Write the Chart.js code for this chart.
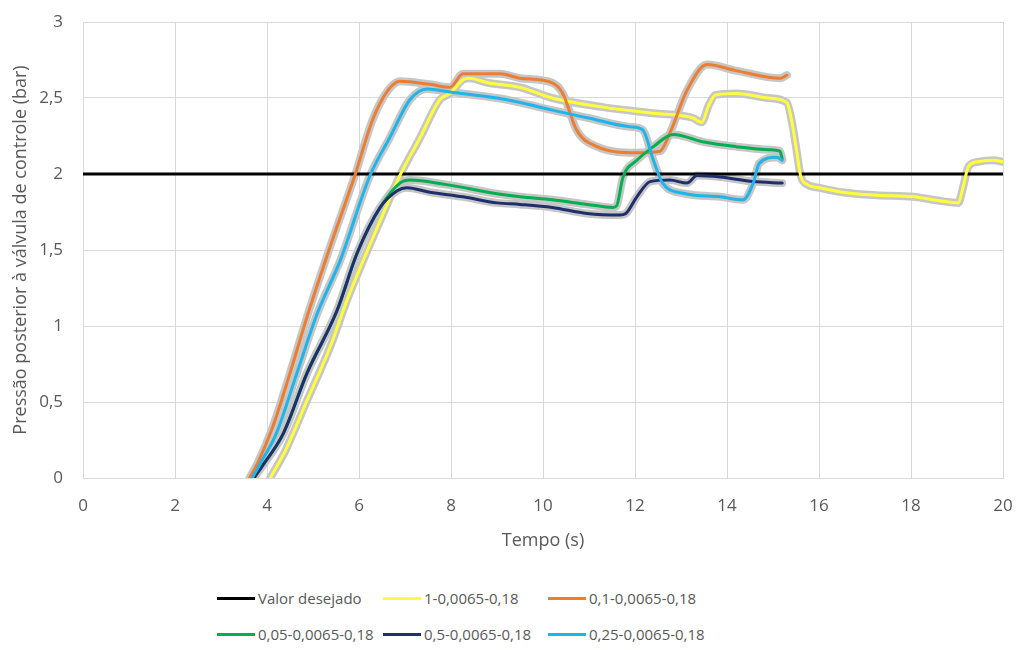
<!DOCTYPE html>
<html>
<head>
<meta charset="utf-8">
<script src="https://cdn.jsdelivr.net/npm/chart.js@4/dist/chart.umd.min.js"></script>
<style>
    body { margin: 0; background: #fff; font-family: "Open Sans", sans-serif; }
    #wrap { position: relative; width: 1017px; height: 650px; }
    #legend {
        position: absolute; left: 217px; top: 586px;
        display: grid; grid-template-columns: 166px 165px 180px; row-gap: 12px;
        color: #595959; font-size: 15px;
    }
    .item { display: flex; align-items: center; height: 24px; white-space: nowrap; }
    .swatch { width: 38px; height: 3px; margin-right: 3px; }
</style>
</head>
<body>
<div id="wrap">
    <canvas id="chart" width="1017" height="560"></canvas>
    <div id="legend"></div>
</div>
<script>
// 设定值
const setpointTime = [0, 20];
const setpointValues = [2, 2];

// 1-0,0065-0,18
const yellowTime = [4.07, 4.4, 4.87, 5.37, 5.74, 6.09, 6.5, 6.89, 7.33, 7.76, 7.98, 8.26, 8.4, 8.8, 9.5, 10.2, 11.3, 12.4, 13.25, 13.45, 13.6, 13.75, 14.2, 14.9, 15.3, 15.4, 15.5, 15.6, 15.75, 16.0, 16.5, 17.25, 18.05, 18.7, 19.03, 19.13, 19.25, 19.45, 19.8, 20];
const yellowValues = [0, 0.18, 0.51, 0.86, 1.17, 1.43, 1.72, 1.99, 2.24, 2.49, 2.53, 2.62, 2.63, 2.6, 2.57, 2.5, 2.44, 2.4, 2.37, 2.34, 2.45, 2.52, 2.53, 2.5, 2.47, 2.36, 2.18, 1.99, 1.93, 1.91, 1.88, 1.86, 1.85, 1.82, 1.81, 1.91, 2.05, 2.08, 2.09, 2.08];

// 0,1-0,0065-0,18
const orangeTime = [3.62, 3.8, 4.13, 4.5, 4.87, 5.37, 5.91, 6.3, 6.63, 6.89, 7.54, 7.98, 8.26, 9.07, 9.5, 10.2, 10.43, 10.73, 11.17, 12.04, 12.54, 12.76, 13.13, 13.57, 14.2, 15.15, 15.3];
const orangeValues = [0, 0.1, 0.34, 0.69, 1.06, 1.52, 1.99, 2.36, 2.55, 2.61, 2.59, 2.57, 2.66, 2.66, 2.63, 2.6, 2.53, 2.29, 2.18, 2.14, 2.15, 2.27, 2.55, 2.72, 2.68, 2.63, 2.65];

// 0,05-0,0065-0,18
const greenTime = [3.7, 3.9, 4.35, 4.87, 5.52, 5.96, 6.46, 6.89, 7.11, 7.9, 9.0, 9.5, 10.2, 10.96, 11.52, 11.6, 11.74, 12.04, 12.4, 12.83, 13.5, 14.2, 14.93, 15.15, 15.2];
const greenValues = [0, 0.08, 0.29, 0.69, 1.1, 1.48, 1.78, 1.94, 1.96, 1.93, 1.87, 1.85, 1.83, 1.8, 1.78, 1.79, 1.98, 2.09, 2.18, 2.26, 2.21, 2.18, 2.16, 2.15, 2.1];

// 0,5-0,0065-0,18
const navyTime = [3.72, 3.9, 4.35, 4.87, 5.52, 5.96, 6.46, 6.83, 7.04, 7.54, 8.26, 9.0, 9.5, 10.2, 10.96, 11.67, 11.8, 12.04, 12.33, 12.76, 13.13, 13.35, 13.85, 14.57, 15.2];
const navyValues = [0, 0.08, 0.29, 0.69, 1.1, 1.48, 1.78, 1.89, 1.91, 1.88, 1.85, 1.81, 1.8, 1.78, 1.74, 1.73, 1.74, 1.85, 1.95, 1.96, 1.94, 1.99, 1.98, 1.95, 1.94];

// 0,25-0,0065-0,18
const blueTime = [3.68, 3.9, 4.2, 4.65, 5.09, 5.59, 6.24, 6.67, 7.11, 7.48, 7.98, 9.0, 9.5, 10.2, 10.96, 11.9, 12.17, 12.4, 12.6, 13.1, 13.85, 14.35, 14.57, 14.7, 15.08, 15.2];
const blueValues = [0, 0.12, 0.29, 0.69, 1.08, 1.43, 1.99, 2.24, 2.49, 2.56, 2.54, 2.5, 2.47, 2.42, 2.37, 2.31, 2.29, 2.09, 1.94, 1.87, 1.85, 1.83, 1.94, 2.07, 2.11, 2.09];

const seriesNames = ['Valor desejado', '1-0,0065-0,18', '0,1-0,0065-0,18', '0,05-0,0065-0,18', '0,5-0,0065-0,18', '0,25-0,0065-0,18'];
const seriesColors = ['#000000', '#FFFF3C', '#ED7D31', '#00B050', '#1F2F6B', '#1EB4EC'];
const xTicks = [0, 2, 4, 6, 8, 10, 12, 14, 16, 18, 20];

const seriesData = [
    [setpointTime, setpointValues],
    [yellowTime, yellowValues],
    [orangeTime, orangeValues],
    [greenTime, greenValues],
    [navyTime, navyValues],
    [blueTime, blueValues]
];

function toPoints(times, values) {
    return times.map((t, i) => ({ x: t, y: values[i] }));
}

const datasets = [];
// 灰色原始信号带
seriesData.forEach((s, i) => {
    if (i === 0) return;
    datasets.push({
        label: 'raw',
        data: toPoints(s[0], s[1]),
        borderColor: '#C6C6C6',
        borderWidth: 8,
        order: 10,
        isRaw: true
    });
});
// 彩色曲线
seriesData.forEach((s, i) => {
    datasets.push({
        label: seriesNames[i],
        data: toPoints(s[0], s[1]),
        borderColor: seriesColors[i],
        borderWidth: 3,
        order: i === 0 ? 8 : 7 - i
    });
});

const tickFont = { family: '"Open Sans", sans-serif', size: 17 };
const titleFont = { family: '"Open Sans", sans-serif', size: 18 };
const decimalComma = v => String(v).replace('.', ',');

const chart = new Chart(document.getElementById('chart'), {
    type: 'line',
    data: { datasets: datasets },
    options: {
        responsive: false,
        animation: false,
        layout: { padding: { top: 22, right: 14 } },
        elements: {
            point: { radius: 0 },
            line: { cubicInterpolationMode: 'monotone', borderJoinStyle: 'round', borderCapStyle: 'round' }
        },
        plugins: { legend: { display: false }, tooltip: { enabled: false } },
        scales: {
            x: {
                type: 'linear', min: 0, max: 20,
                afterBuildTicks: scale => { scale.ticks = xTicks.map(v => ({ value: v })); },
                afterFit: scale => { scale.height = 82; scale.paddingLeft = 0; scale.paddingRight = 0; },
                grid: { color: '#D9D9D9', drawTicks: false },
                border: { color: '#D9D9D9' },
                ticks: { color: '#595959', font: tickFont, padding: 18, callback: decimalComma },
                title: { display: true, text: 'Tempo (s)', color: '#595959', font: titleFont, padding: { bottom: 8 } }
            },
            y: {
                min: 0, max: 3,
                afterFit: scale => { scale.width = 83; scale.paddingTop = 0; scale.paddingBottom = 0; },
                grid: { color: '#D9D9D9', drawTicks: false },
                border: { color: '#D9D9D9' },
                ticks: { stepSize: 0.5, color: '#595959', font: tickFont, padding: 20, callback: decimalComma },
                title: { display: true, text: 'Pressão posterior à válvula de controle (bar)', color: '#595959', font: titleFont, padding: { top: 10 } }
            }
        }
    }
});

// 图例（三列网格）
const legend = document.getElementById('legend');
chart.data.datasets.filter(d => !d.isRaw).forEach(d => {
    const item = document.createElement('div');
    item.className = 'item';
    item.innerHTML = '<span class="swatch" style="background:' + d.borderColor + '"></span>' + d.label;
    legend.appendChild(item);
});
</script>
</body>
</html>
